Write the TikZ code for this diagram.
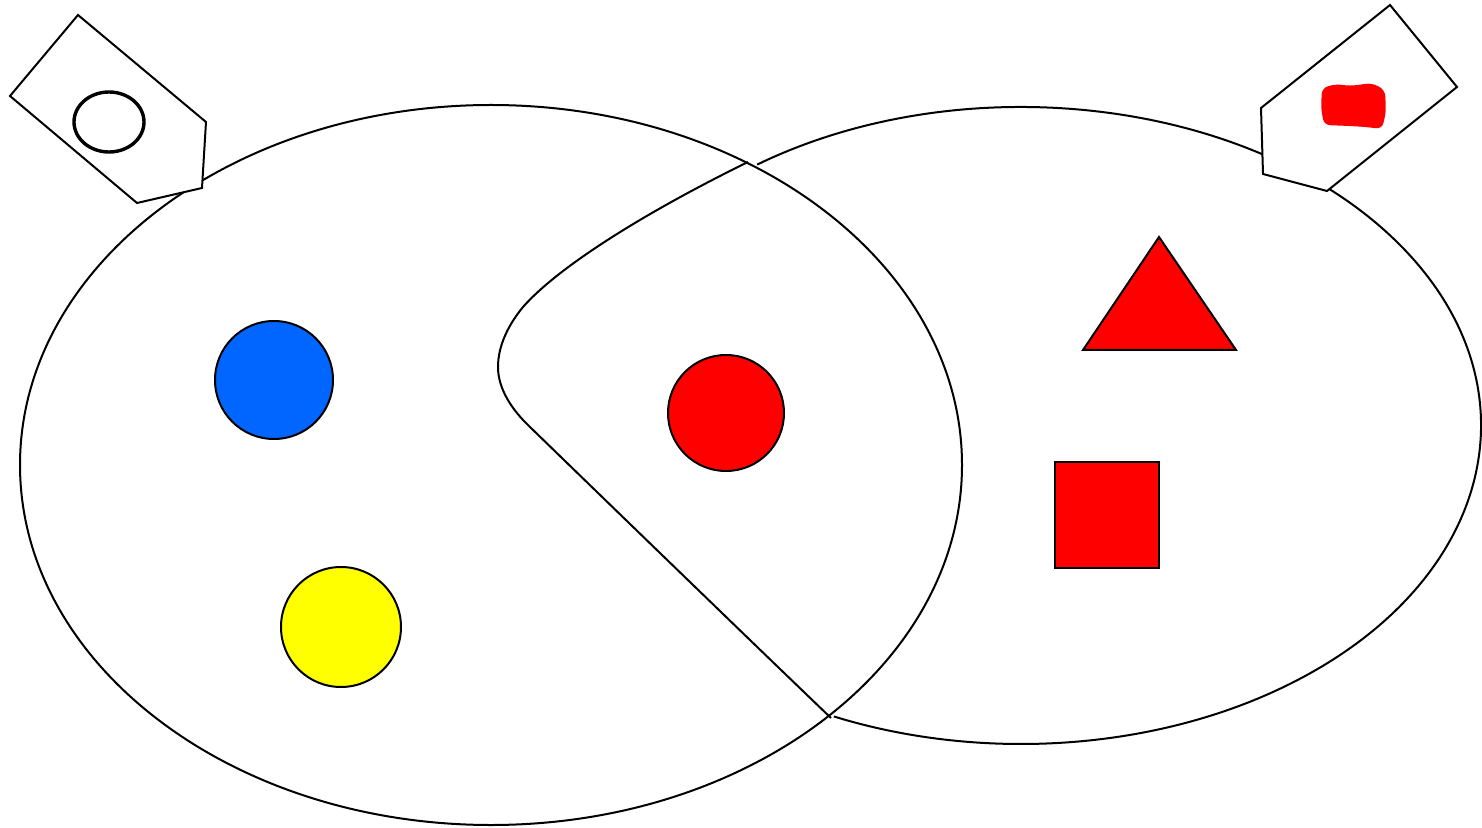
\documentclass[tikz,border=0pt]{standalone}
\usetikzlibrary{positioning}
\definecolor{dotblue}{RGB}{0,102,255}
\definecolor{dotred}{RGB}{255,0,0}
\definecolor{dotyellow}{RGB}{255,255,0}

\begin{document}
\begin{tikzpicture}[
    x=0.5pt, y=-0.5pt,
    rim/.style={draw, line width=1pt},
    dot/.style={circle, draw, line width=1pt, inner sep=0pt, minimum size=59pt},
    tag/.style={draw, fill=white, line width=1pt, line join=miter}]
    \useasboundingbox (0,0) rectangle (1482,828);
    % the two sets
    \draw[rim] (491,465) ellipse [x radius=471, y radius=360];
    \draw[rim] (1021,425.5) ++(-125:460 and 318.5) arc [start angle=-125, end angle=114, x radius=460, y radius=318.5];
    \draw[rim] (748,162) .. controls (650,210) and (560,265) .. (523,307)
                         .. controls (509,324) and (498,345) .. (498,367)
                         .. controls (498,389) and (512,410) .. (530,427)
                         .. controls (600,495) and (760,650) .. (831,718);
    % members
    \node[dot, fill=dotblue] (blue) at (274,380) {};
    \node[dot, fill=dotyellow, minimum size=60pt] (yellow) at (341,627) {};
    \node[dot, fill=dotred, minimum size=58pt] (red) at (726,413) {};
    \draw[rim, fill=dotred] (1159,237) -- (1236,350) -- (1083,350) -- cycle;
    \node[rectangle, draw, line width=1pt, fill=dotred, minimum width=52pt, minimum height=53pt] (sq) at (1107,515) {};
    % labels of the sets
    \draw[tag] (78,15) -- (206,122) -- (202,188) -- (137,203) -- (10,96) -- cycle;
    \draw[line width=1.7pt] (109,122) ellipse [x radius=35, y radius=30];
    \draw[tag] (1390,5) -- (1457,87) -- (1327,191) -- (1263,174) -- (1261,108) -- cycle;
    \fill[dotred, rounded corners=3] (1322,88) -- (1336,84) -- (1350,86) -- (1372,83) -- (1385,90) -- (1386,112) -- (1382,129) -- (1366,127) -- (1350,126) -- (1324,125) -- (1321,108) -- cycle;
\end{tikzpicture}
\end{document}
